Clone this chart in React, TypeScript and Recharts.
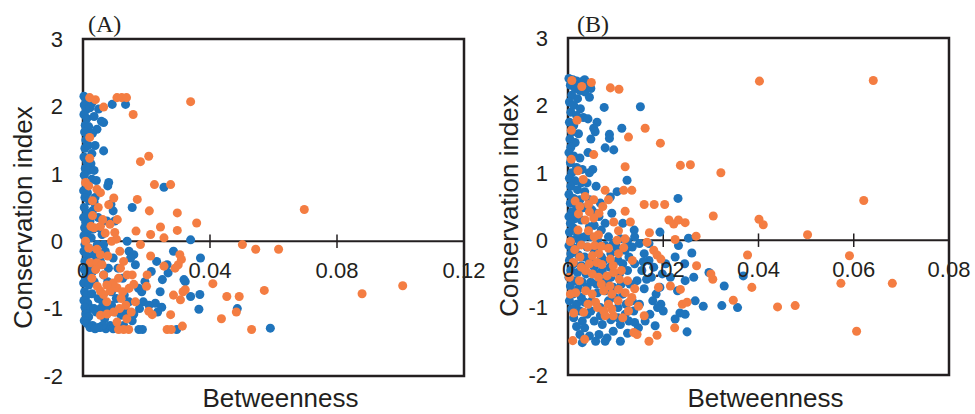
import React from 'react'
import {
  ScatterChart, Scatter, XAxis, YAxis, ZAxis, ReferenceLine, ReferenceArea
} from 'recharts'

const yTicks = [-2, -1, 0, 1, 2, 3]
const xTicksA = [0, 0.04, 0.08, 0.12]
const xTickLabelsA = ['0', '0.04', '0.08', '0.12']
const xTicksB = [0, 0.02, 0.04, 0.06, 0.08]
const xTickLabelsB = ['0', '0.02', '0.04', '0.06', '0.08']

// panel A: [betweenness, conservation index]
const blueA: [number, number][] = [
  [0.0003, 2.15], [0.0008, 2.12], [0.0015, 2.08], [0.0004, 2.02], [0.001, 1.95], [0.0022, 1.98],
  [0.0003, 1.88], [0.0012, 1.82], [0.0007, 1.72], [0.0018, 1.7], [0.0005, 1.62], [0.0009, 1.5],
  [0.0006, 1.38], [0.0016, 1.42], [0.0003, 1.25], [0.0012, 1.18], [0.0025, 1.15], [0.0007, 1.08],
  [0.0018, 1.05], [0.0004, 0.98], [0.0028, 0.92], [0.001, 0.85], [0.0002, 0.75], [0.0014, 0.72],
  [0.0006, 0.65], [0.002, 0.6], [0.0035, 0.58], [0.0004, 0.5], [0.0012, 0.42], [0.003, 0.45],
  [0.0002, 0.35], [0.0009, 0.28], [0.0022, 0.3], [0.0005, 0.2], [0.0015, 0.15], [0.0032, 0.18],
  [0.0003, 0.08], [0.0011, 0.02], [0.0026, 0.05], [0.0006, -0.05], [0.0018, -0.1], [0.0003, -0.15],
  [0.0012, -0.22], [0.0035, -0.2], [0.0006, -0.3], [0.0022, -0.35], [0.0004, -0.42], [0.0015, -0.48],
  [0.003, -0.45], [0.0008, -0.55], [0.0002, -0.62], [0.0018, -0.65], [0.0005, -0.75], [0.0012, -0.8],
  [0.0028, -0.78], [0.0003, -0.88], [0.0015, -0.92], [0.0006, -0.98], [0.0025, -1.0], [0.0009, -1.08],
  [0.0018, -1.12], [0.0004, -1.18], [0.0012, -1.22], [0.003, -1.25], [0.0022, -1.28], [0.0038, -1.3],
  [0.0049, 1.96], [0.0065, 1.76], [0.0058, 1.78], [0.0044, 1.66], [0.0065, 1.34], [0.0038, 1.42],
  [0.0092, 2.03], [0.0134, 2.03], [0.0081, 0.87], [0.0078, 0.82], [0.0088, 0.55], [0.0095, 0.45],
  [0.01, 0.3], [0.0155, 0.5], [0.0139, 0.0], [0.0255, 0.8], [0.0339, 0.02], [0.005, 0.2],
  [0.006, 0.1], [0.0045, -0.05], [0.007, -0.15], [0.0055, -0.3], [0.008, -0.4], [0.0065, -0.5],
  [0.0095, -0.25], [0.011, -0.4], [0.0125, -0.55], [0.0145, -0.15], [0.016, -0.2], [0.015, -0.25],
  [0.0175, -0.7], [0.0185, -0.75], [0.019, -0.9], [0.0178, -1.0], [0.016, -1.08], [0.0139, -1.05],
  [0.012, -1.1], [0.0105, -0.85], [0.009, -0.95], [0.0075, -1.0], [0.0068, -1.15], [0.0055, -1.28],
  [0.0072, -1.3], [0.0085, -1.25], [0.0115, -1.3], [0.0128, -1.25], [0.0176, -1.31], [0.0187, -1.31],
  [0.0155, -1.18], [0.0195, -0.6], [0.0215, -0.45], [0.0228, -0.92], [0.0248, -0.98], [0.0235, -1.05],
  [0.0208, -0.95], [0.0265, -0.35], [0.0268, -0.47], [0.025, -0.57], [0.0243, -0.75], [0.0318, -0.57],
  [0.0322, -0.6], [0.0295, -1.31], [0.0339, -0.82], [0.037, -0.25], [0.0368, -0.79], [0.0365, -1.01],
  [0.0486, -1.0], [0.059, -1.29], [0.0285, -0.15], [0.0232, -0.3],
  [0.0035, -0.6], [0.0048, -0.85], [0.0042, -1.05], [0.0055, -1.0], [0.0062, -0.9], [0.0078, -0.6],
  [0.009, -0.75], [0.0102, -1.05], [0.0095, -1.3], [0.0062, -1.25], [0.0048, -1.28], [0.0035, -1.0],
  [0.004, 0.5], [0.0048, 0.35], [0.0038, 0.65], [0.0042, 0.9], [0.0035, 1.05], [0.0028, 1.3],
  [0.003, 1.6], [0.0035, 1.85], [0.0028, 2.05], [0.0045, -0.25], [0.0065, -0.05], [0.0075, 0.3],
  [0.013, -0.8], [0.0145, -0.9], [0.0165, -0.35],
]

const orangeA: [number, number][] = [
  [0.0339, 2.07], [0.0697, 0.47], [0.0879, -0.78], [0.1007, -0.66], [0.0502, -0.05], [0.0544, -0.12],
  [0.0616, -0.12], [0.0571, -0.73], [0.0531, -1.31], [0.0436, -1.15], [0.0483, -1.05], [0.0492, -0.82],
  [0.0453, -0.82], [0.0409, -0.63], [0.0358, 0.27], [0.0297, 0.42], [0.0297, 0.16], [0.0276, 0.84],
  [0.0225, 0.84], [0.0207, 1.26], [0.0181, 1.18], [0.0158, 1.88], [0.0107, 2.13], [0.0122, 2.13],
  [0.0137, 2.13], [0.0065, 1.99], [0.0021, 2.13], [0.0039, 2.1], [0.0021, 1.54], [0.0021, 1.23],
  [0.0171, 0.62], [0.0209, 0.45], [0.0244, 0.21], [0.0213, 0.1], [0.0167, 0.15], [0.0255, 0.05],
  [0.0097, 0.64], [0.0081, 0.54], [0.0008, 0.87], [0.0018, 0.82], [0.0044, 0.77], [0.0055, 0.72],
  [0.0048, 0.5], [0.003, 0.38], [0.0055, 0.22], [0.0035, 0.2], [0.0025, 0.22], [0.007, 0.12],
  [0.0085, 0.25], [0.01, 0.13], [0.0108, 0.32], [0.0105, 0.03], [0.0008, 0.0], [0.0018, -0.1],
  [0.0044, -0.12], [0.0055, -0.2], [0.0023, -0.32], [0.0044, -0.32], [0.006, -0.35], [0.0116, -0.15],
  [0.0118, -0.4], [0.0112, -0.55], [0.0139, -0.5], [0.0181, -0.05], [0.0213, -0.22], [0.0255, -0.37],
  [0.0202, -0.5], [0.02, -0.67], [0.016, -0.64], [0.0305, -0.2], [0.031, -0.27], [0.03, -0.35],
  [0.029, -0.4], [0.0285, -0.8], [0.0307, -0.87], [0.0315, -0.75], [0.0322, -0.72], [0.0276, -1.09],
  [0.0265, -1.31], [0.0278, -1.31], [0.0313, -1.26], [0.0218, -1.09], [0.0207, -1.04], [0.0045, -0.67],
  [0.0055, -0.74], [0.0065, -0.79], [0.0086, -0.74], [0.0107, -0.69], [0.0125, -0.75], [0.0095, -0.62],
  [0.0055, -1.1], [0.0076, -1.08], [0.0097, -1.05], [0.0115, -1.0], [0.0107, -1.2], [0.0112, -1.31],
  [0.0128, -1.31], [0.0144, -1.31], [0.0138, -1.15], [0.0152, -1.05], [0.0165, -0.9], [0.0075, -0.9],
  [0.004, -0.42], [0.009, 0.0], [0.012, -0.85],
  [0.0065, -0.5], [0.0075, -0.65], [0.0135, -0.95], [0.0145, -0.7], [0.0028, -0.55], [0.003, 0.6],
  [0.0062, 0.32], [0.0078, -0.22], [0.0128, -0.3], [0.0155, -0.5],
]

// panel B
const blueB: [number, number][] = [
  [0.0002, 2.4], [0.001, 2.38], [0.0018, 2.36], [0.0028, 2.35], [0.0005, 2.3], [0.0015, 2.25],
  [0.0025, 2.22], [0.0035, 2.2], [0.0008, 2.15], [0.002, 2.1], [0.0003, 2.05], [0.0012, 2.0],
  [0.0026, 1.95], [0.0006, 1.9], [0.0018, 1.85], [0.0032, 1.82], [0.0003, 1.75], [0.0012, 1.7],
  [0.0008, 1.6], [0.0022, 1.58], [0.0004, 1.5], [0.0015, 1.45], [0.0006, 1.38], [0.0002, 1.3],
  [0.0012, 1.25], [0.0025, 1.22], [0.0005, 1.15], [0.0018, 1.08], [0.003, 1.05], [0.0008, 1.0],
  [0.0003, 0.92], [0.0015, 0.88], [0.0028, 0.85], [0.0006, 0.8], [0.002, 0.75], [0.0035, 0.72],
  [0.0002, 0.68], [0.0012, 0.62], [0.0025, 0.6], [0.0005, 0.55], [0.0018, 0.5], [0.0032, 0.48],
  [0.0008, 0.42], [0.0002, 0.35], [0.0015, 0.32], [0.0028, 0.3], [0.0005, 0.25], [0.0045, 0.2],
  [0.0012, 0.18], [0.0003, 0.12], [0.002, 0.08], [0.0035, 0.05], [0.0008, 0.0], [0.0025, -0.02],
  [0.0002, -0.08], [0.0015, -0.12], [0.004, -0.1], [0.0006, -0.2], [0.0022, -0.22], [0.0035, -0.25],
  [0.0003, -0.3], [0.0012, -0.35], [0.0028, -0.38], [0.0045, -0.3], [0.0006, -0.45], [0.002, -0.48],
  [0.0038, -0.5], [0.0002, -0.55], [0.0015, -0.6], [0.003, -0.62], [0.0005, -0.68], [0.0022, -0.72],
  [0.004, -0.7], [0.001, -0.8], [0.0028, -0.85], [0.0003, -0.9], [0.0018, -0.95], [0.0035, -0.92],
  [0.0008, -1.02], [0.0025, -1.05], [0.004, -1.1], [0.0012, -1.15], [0.003, -1.2], [0.0018, -1.28],
  [0.0035, -1.3], [0.0025, -1.4], [0.0045, -1.42], [0.003, -1.52],
  [0.0045, 2.12], [0.0076, 1.97], [0.0152, 1.98], [0.0061, 1.75], [0.0054, 1.66], [0.0057, 1.61],
  [0.0087, 1.57], [0.0087, 1.51], [0.0113, 1.66], [0.0078, 1.37], [0.0096, 1.34], [0.0052, 1.05],
  [0.0124, 0.89], [0.0059, 0.8], [0.0089, 0.64], [0.0103, 0.72], [0.0231, 0.62], [0.0193, 0.12],
  [0.0139, 0.15], [0.0253, 0.03], [0.0232, -0.08], [0.026, -0.19], [0.0045, 0.6], [0.005, 0.45],
  [0.0065, 0.35], [0.0055, 0.22], [0.007, 0.15], [0.0085, 0.05], [0.0062, 0.0], [0.0078, -0.08],
  [0.0095, -0.05], [0.011, 0.02], [0.0125, -0.02], [0.0055, -0.15], [0.007, -0.25], [0.009, -0.2],
  [0.0105, -0.3], [0.012, -0.15], [0.0135, -0.1], [0.015, -0.05], [0.016, -0.2], [0.0055, -0.4],
  [0.0072, -0.45], [0.009, -0.55], [0.0108, -0.5], [0.0125, -0.45], [0.014, -0.35], [0.0155, -0.45],
  [0.017, -0.3], [0.018, -0.4], [0.006, -0.65], [0.0078, -0.75], [0.0095, -0.7], [0.0115, -0.8],
  [0.013, -0.65], [0.0145, -0.6], [0.016, -0.72], [0.0175, -0.55], [0.005, -0.9], [0.0068, -1.0],
  [0.0085, -0.9], [0.0105, -1.0], [0.012, -1.1], [0.0135, -0.9], [0.015, -0.95], [0.0185, -0.8],
  [0.0055, -1.2], [0.0072, -1.25], [0.009, -1.18], [0.011, -1.25], [0.0128, -1.2], [0.014, -1.22],
  [0.0065, -1.4], [0.0078, -1.5], [0.0082, -1.45], [0.011, -1.5], [0.0058, -1.5], [0.0183, -1.27],
  [0.025, -1.36], [0.0195, -0.95], [0.02, -1.05], [0.0193, -0.7], [0.0215, -0.55], [0.023, -0.75],
  [0.0235, -1.08], [0.0225, -1.17], [0.0246, -1.1], [0.0246, -0.6], [0.0264, -0.55], [0.0267, -0.9],
  [0.0284, -0.98], [0.0323, -0.97], [0.0356, -1.0], [0.0328, -0.68], [0.0368, -0.53], [0.0296, -0.48],
  [0.0205, -0.35], [0.0225, -0.25], [0.0245, -0.35], [0.017, -0.05],
  [0.0048, -0.62], [0.0062, -0.78], [0.0068, -0.58], [0.0082, -0.62], [0.0098, -0.85], [0.0112, -0.65],
  [0.0122, -0.95], [0.0138, -1.05], [0.0095, -1.35], [0.0125, -1.38], [0.0105, -1.15], [0.0068, -1.12],
  [0.0048, -1.05], [0.0058, -0.5], [0.0075, -0.3], [0.0088, -0.4], [0.0102, -0.1], [0.0115, -0.35],
  [0.0128, -0.25], [0.0048, 0.05], [0.0058, 0.4], [0.0068, 0.55], [0.0078, 0.25], [0.0092, 0.4],
  [0.0115, 0.25], [0.014, 0.05], [0.0158, -0.32], [0.0165, -0.58], [0.0178, -0.9], [0.0172, -1.1],
  [0.0162, -1.2], [0.0148, -1.3], [0.0188, -1.0], [0.0198, -0.5], [0.0042, 1.3], [0.0045, 1.0],
  [0.004, 0.85], [0.0048, 1.5], [0.0042, 1.8], [0.004, 2.3], [0.0035, 2.38], [0.0048, 2.25],
]

const orangeB: [number, number][] = [
  [0.0402, 2.36], [0.0641, 2.37], [0.0621, 0.59], [0.0503, 0.08], [0.0401, 0.31], [0.041, 0.23],
  [0.0377, -0.22], [0.0386, -0.7], [0.0347, -0.89], [0.044, -0.99], [0.0477, -0.97], [0.0573, -0.64],
  [0.0681, -0.64], [0.0591, -0.23], [0.0606, -1.35], [0.0321, 1.0], [0.0305, 0.36], [0.0304, -0.58],
  [0.03, -0.5], [0.0269, 0.06], [0.027, -0.38], [0.0257, 1.12], [0.0236, 1.11], [0.0194, 1.44],
  [0.0162, 1.66], [0.0127, 1.53], [0.012, 1.09], [0.0054, 1.27], [0.0089, 2.26], [0.0107, 2.24],
  [0.0049, 2.34], [0.0029, 2.28], [0.0008, 2.37], [0.0019, 1.78], [0.0007, 1.63], [0.0007, 1.2],
  [0.0021, 1.03], [0.016, 0.53], [0.0181, 0.53], [0.0203, 0.53], [0.0117, 0.74], [0.0134, 0.74],
  [0.0078, 0.74], [0.012, 0.43], [0.0096, 0.27], [0.0131, 0.27], [0.0073, 0.5], [0.0171, 0.11],
  [0.0212, 0.3], [0.0222, 0.24], [0.0232, 0.3], [0.0246, 0.26], [0.0225, 0.01], [0.0166, -0.03],
  [0.018, -0.15], [0.0187, -0.22], [0.0195, -0.28], [0.019, -0.7], [0.0215, -0.68], [0.0236, -0.73],
  [0.024, -0.95], [0.025, -0.92], [0.0224, -1.3], [0.0187, -1.41], [0.017, -1.5], [0.0145, -1.4],
  [0.0138, -1.37], [0.001, -1.49], [0.0035, -1.47], [0.0012, -1.08], [0.0033, -1.07], [0.0078, -1.12],
  [0.0092, -1.02], [0.0127, -1.05], [0.016, -1.12], [0.0148, -0.98], [0.0134, -0.85], [0.012, -0.78],
  [0.0106, -0.73], [0.0092, -0.8], [0.0075, -0.75], [0.0051, -0.8], [0.0037, -0.75], [0.0016, -0.78],
  [0.0005, -0.8], [0.0037, -0.45], [0.0051, -0.5], [0.0064, -0.55], [0.0082, -0.53], [0.0096, -0.48],
  [0.0051, -0.23], [0.0061, -0.33], [0.0071, -0.36], [0.0089, -0.28], [0.0106, -0.2], [0.0117, -0.11],
  [0.0103, 0.0], [0.0106, 0.14], [0.012, 0.02], [0.0135, -0.3], [0.0005, -0.02], [0.0014, -0.14],
  [0.0028, -0.07], [0.0042, -0.1], [0.0056, -0.08], [0.007, -0.09], [0.0015, 0.58], [0.0036, 0.65],
  [0.0043, 0.53], [0.0054, 0.6], [0.0022, 0.39], [0.0036, 0.3], [0.0021, 0.15], [0.0043, 0.14],
  [0.0054, 0.33], [0.0064, 0.08], [0.0003, -0.55], [0.0024, -0.6], [0.0042, -0.95], [0.0062, -1.0],
  [0.0085, -0.95], [0.0105, -0.9], [0.0011, -0.33], [0.0028, -0.4],
  [0.0025, -0.25], [0.0045, -0.35], [0.0065, -0.2], [0.0085, -0.12], [0.0095, -0.38], [0.0112, -0.45],
  [0.0125, -0.6], [0.0108, -0.58], [0.0088, -0.68], [0.007, -0.65], [0.0058, -0.92], [0.0075, -1.05],
  [0.0095, -1.12], [0.0115, -1.15], [0.0128, -0.92], [0.014, -0.72], [0.0045, 0.42], [0.0065, 0.4],
  [0.0085, 0.6], [0.0025, 0.5], [0.0032, 0.9], [0.0055, 0.05],
]

const BLUE = '#1f74bc'
const ORANGE = '#f47d42'
const INK = '#231f20'
const FONT = '"Liberation Sans", Arial, sans-serif'

const toPoints = (arr: [number, number][]) => arr.map(([x, y]) => ({ x, y }))

interface PanelProps {
  left: number
  width: number
  top: number
  yAxisWidth: number
  right: number
  xAxisHeight: number
  xTicks: number[]
  xTickLabels: string[]
  blue: [number, number][]
  orange: [number, number][]
  tag: string
  tagLeft: number
  yLabelDy: number
}

function Panel(p: PanelProps) {
  const xMax = p.xTicks[p.xTicks.length - 1]
  return (
    <div style={{ position: 'absolute', left: p.left, top: 0 }}>
      <ScatterChart
        width={p.width}
        height={414}
        margin={{ top: p.top, right: p.right, bottom: 0, left: 0 }}
      >
        <XAxis
          type="number"
          dataKey="x"
          domain={[0, xMax]}
          ticks={p.xTicks}
          tick={false}
          axisLine={false}
          tickLine={false}
          height={p.xAxisHeight}
          label={{ value: 'Betweenness', position: 'center', dx: 7, dy: 3, fontSize: 26, fill: INK, fontFamily: FONT }}
        />
        <YAxis
          type="number"
          dataKey="y"
          domain={[-2, 3]}
          ticks={yTicks}
          axisLine={false}
          tickLine={false}
          tickSize={0}
          tickMargin={20}
          width={p.yAxisWidth}
          tick={{ fontSize: 22, fill: INK, fontFamily: FONT }}
          label={{ value: 'Conservation index', angle: -90, position: 'center', dx: -19, dy: p.yLabelDy, fontSize: 26, fill: INK, fontFamily: FONT }}
        />
        <ZAxis range={[110, 110]} />
        <ReferenceArea x1={0} x2={xMax} y1={-2} y2={3} fill="none" stroke={INK} strokeWidth={2.5} />
        <ReferenceLine y={0} stroke={INK} strokeWidth={2} />
        {p.xTicks.map((t, i) => (
          <ReferenceLine
            key={t}
            segment={[{ x: t, y: -0.1 }, { x: t, y: 0.1 }]}
            stroke={INK}
            strokeWidth={1.5}
            label={{ value: p.xTickLabels[i], position: 'bottom', offset: 14, fontSize: 22, fill: INK, fontFamily: FONT }}
          />
        ))}
        <Scatter data={toPoints(p.blue)} fill={BLUE} isAnimationActive={false} />
        <Scatter data={toPoints(p.orange)} fill={ORANGE} isAnimationActive={false} />
      </ScatterChart>
      <div
        style={{
          position: 'absolute', left: p.tagLeft, top: 12, fontFamily: '"Liberation Serif", serif',
          fontSize: 24, lineHeight: 1, color: INK,
        }}
      >
        {p.tag}
      </div>
    </div>
  )
}

export default function App() {
  return (
    <div style={{ position: 'absolute', left: 0, top: 0, width: 975, height: 414, background: '#fff' }}>
      <Panel
        left={0} width={487} top={39} yAxisWidth={83} right={23} xAxisHeight={38}
        xTicks={xTicksA} xTickLabels={xTickLabelsA} blue={blueA} orange={orangeA}
        tag="(A)" tagLeft={88} yLabelDy={10}
      />
      <Panel
        left={487} width={488} top={38} yAxisWidth={81} right={26} xAxisHeight={39}
        xTicks={xTicksB} xTickLabels={xTickLabelsB} blue={blueB} orange={orangeB}
        tag="(B)" tagLeft={90} yLabelDy={-1}
      />
    </div>
  )
}
